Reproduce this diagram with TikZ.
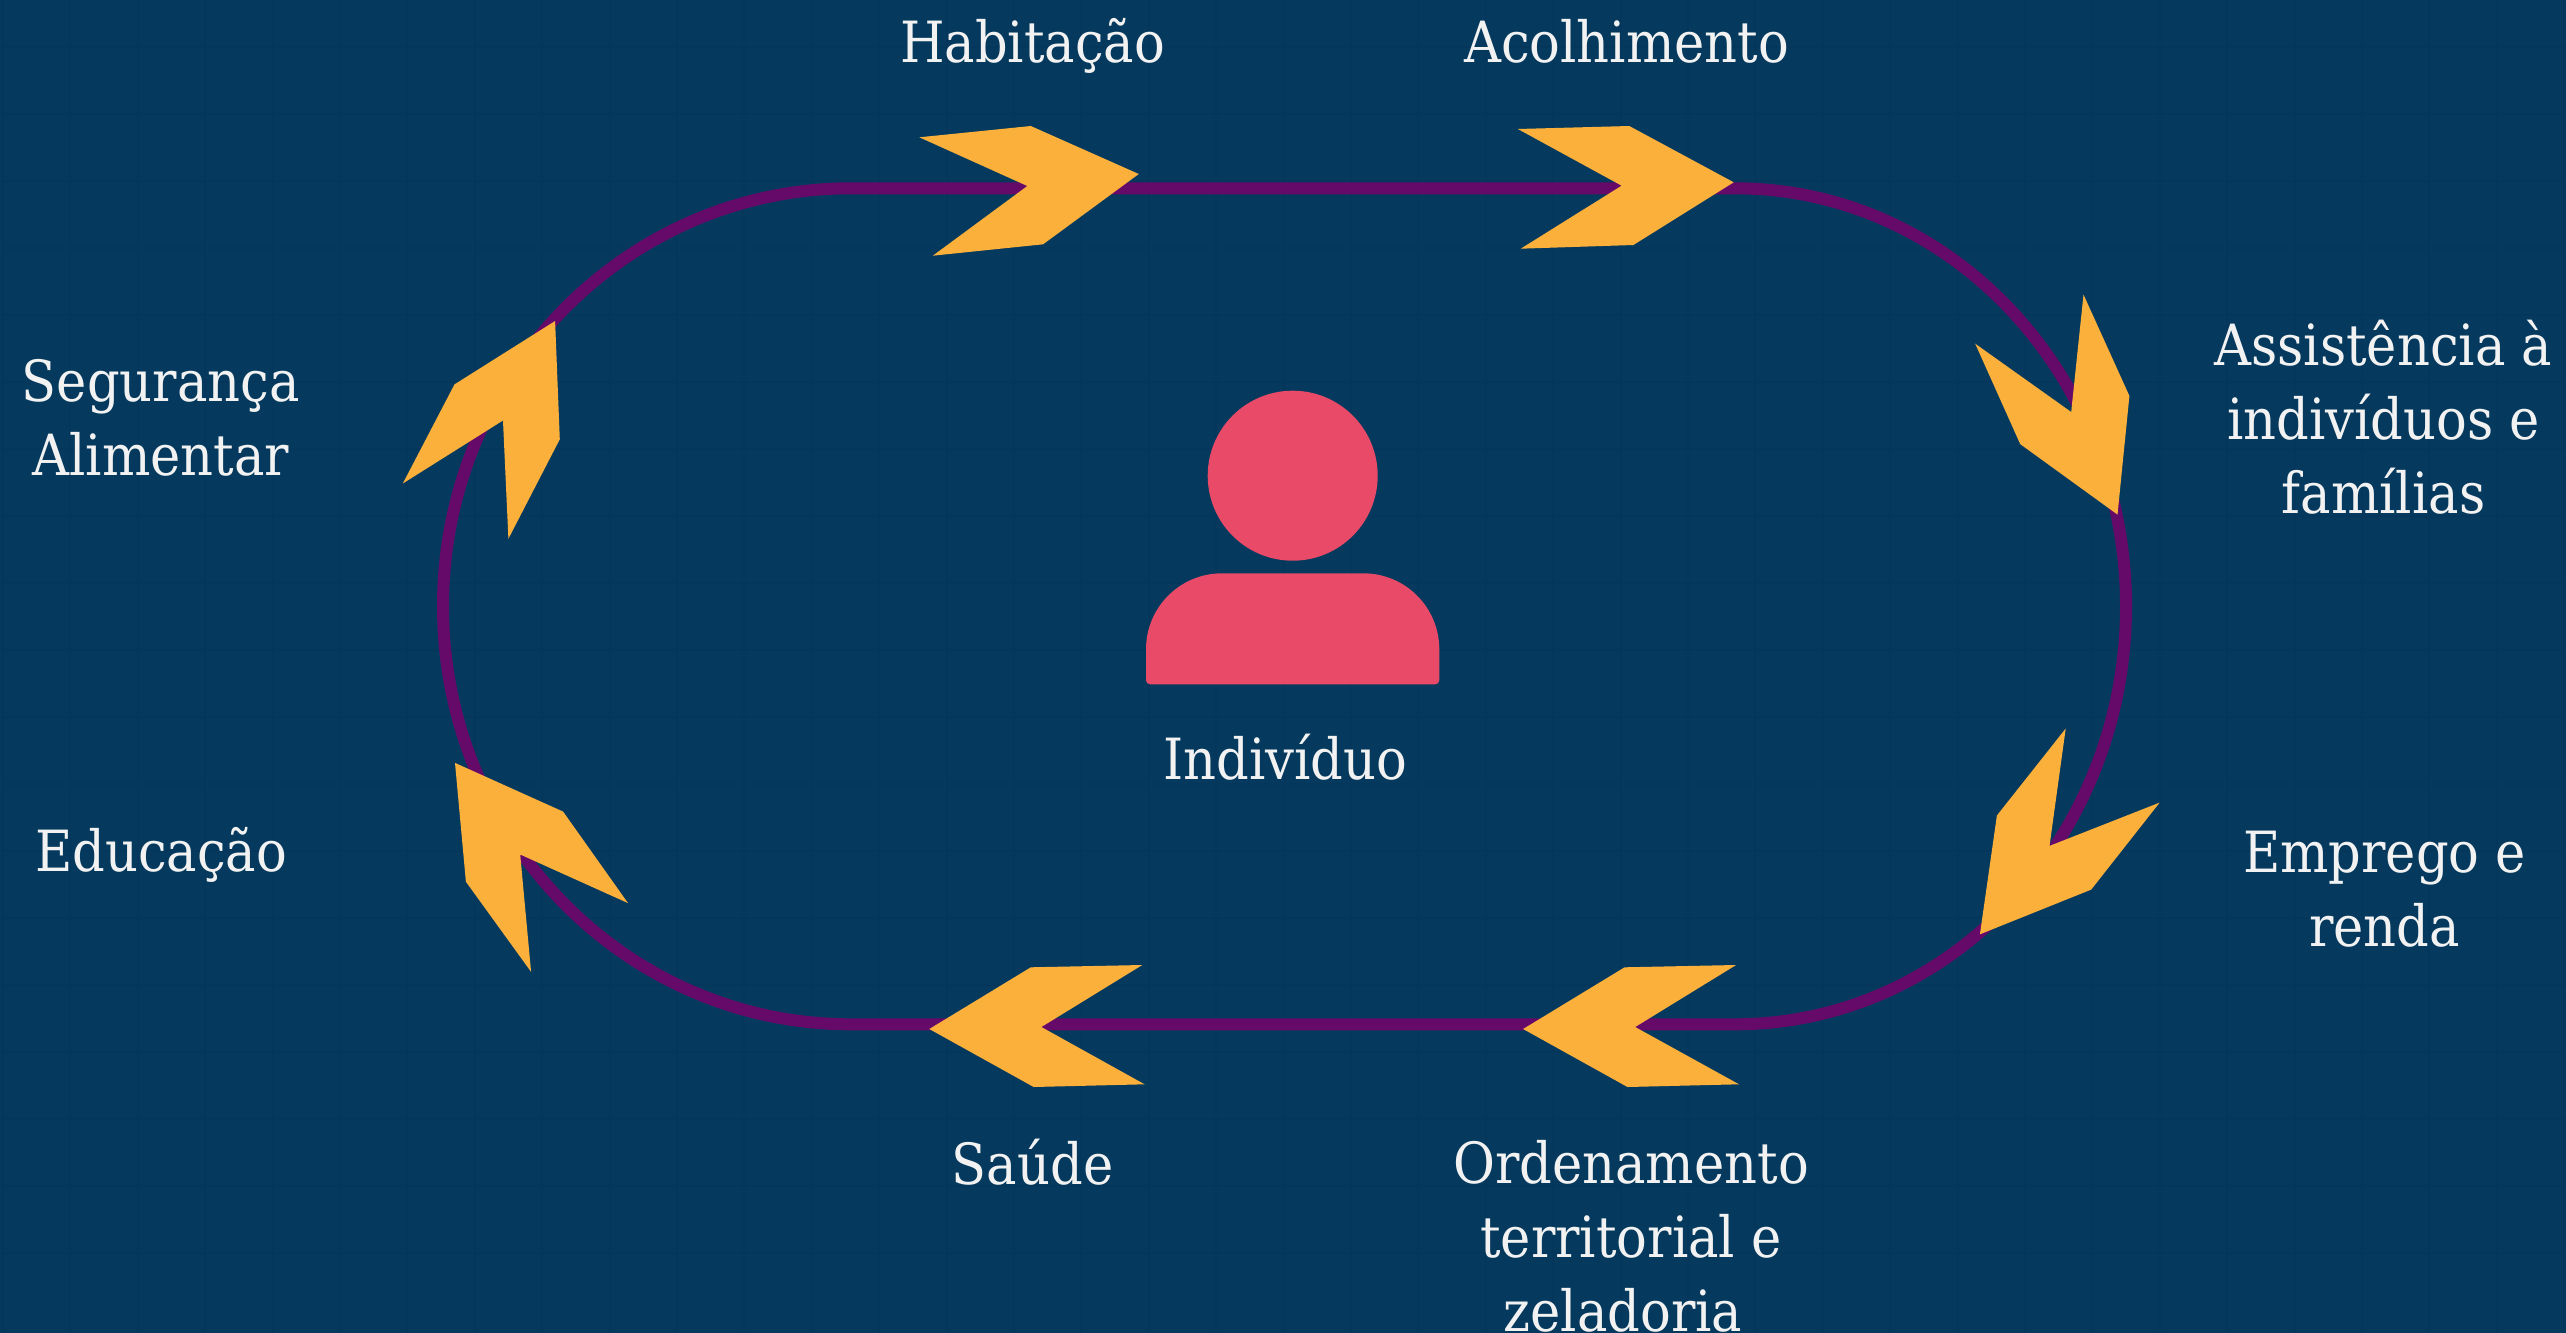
\documentclass[tikz,border=0pt]{standalone}
\usepackage{fontspec}
\setmainfont{DejaVu Serif Condensed}
\definecolor{bgblue}{HTML}{053A5E}
\definecolor{gridblue}{HTML}{04375B}
\definecolor{loopviolet}{HTML}{660A69}
\definecolor{chevronorange}{HTML}{FBB03B}
\definecolor{personred}{HTML}{E84A67}
\definecolor{labelwhite}{HTML}{F2F2F2}
\tikzset{
  label text/.style={text=labelwhite,font=\fontsize{28.4}{37}\selectfont,align=center,anchor=base,inner sep=0pt,outer sep=0pt},
  chevron/.style={fill=chevronorange,draw=none},
  person/.style={fill=personred,draw=none},
  loopline/.style={draw=loopviolet,line width=6pt},
  gridline/.style={draw=gridblue,line width=1pt}
}
\begin{document}
\begin{tikzpicture}[x=0.5pt,y=-0.5pt]
\useasboundingbox (0,0) rectangle (2566,1333);
\fill[bgblue] (0,0) rectangle (2566,1333);
\clip (0,0) rectangle (2566,1333);
\foreach \i in {0,...,38} \draw[gridline] ({3+67.4*\i},0) -- ({3+67.4*\i},1333);
\foreach \i in {0,...,19} \draw[gridline] (0,{47+67*\i-67}) -- (2566,{47+67*\i-67});
% loop
\coordinate (loopTL) at (851,188.3);
\coordinate (loopTR) at (1735,188.3);
\coordinate (loopBR) at (1735,1024.3);
\coordinate (loopBL) at (851,1024.3);
\draw[loopline] (loopTL) -- (loopTR)
  arc[start angle=-90,end angle=90,x radius=391,y radius=418] -- (loopBL)
  arc[start angle=90,end angle=270,x radius=408,y radius=418] -- cycle;
% chevrons
\fill[chevron] (919.3,137.3) -- (1030.8,126) -- (1138.8,174) -- (1043.1,244.3) -- (932.8,255.7) -- (1027.3,186) -- cycle;
\fill[chevron] (1517.8,129) -- (1629.3,126) -- (1733.7,182.3) -- (1633.4,245) -- (1520.7,248.7) -- (1621.6,185.7) -- cycle;
\fill[chevron] (2083.5,294.6) -- (2129.4,395.9) -- (2117.5,514.6) -- (2020.2,444.1) -- (1975.2,343.7) -- (2071.2,412) -- cycle;
\fill[chevron] (2065.7,728.5) -- (1996.9,815.5) -- (1979.9,934.3) -- (2091.2,889.6) -- (2159.6,802.6) -- (2049.5,845.9) -- cycle;
\fill[chevron] (1736.1,965) -- (1624.6,967.3) -- (1523.1,1029) -- (1627.5,1087) -- (1739,1084.3) -- (1635.2,1027) -- cycle;
\fill[chevron] (1142.3,965) -- (1030.8,967.3) -- (929.3,1029) -- (1033.7,1087) -- (1144.6,1084.3) -- (1041.4,1027) -- cycle;
\fill[chevron] (455,762.9) -- (563.1,811.6) -- (628,903.1) -- (520.2,854.5) -- (531.1,971.9) -- (465.9,881.7) -- cycle;
\fill[chevron] (555.1,321) -- (559.8,439.3) -- (508.4,538.8) -- (503,420.5) -- (402.8,483.5) -- (454.5,384.4) -- cycle;
% person
\fill[person] (1292.7,475.7) circle[radius=85];
\fill[person] (1146,680.3) -- (1146,649.3) arc[start angle=180,end angle=270,radius=76] -- (1363.3,573.3) arc[start angle=270,end angle=360,radius=76] -- (1439.3,680.3) arc[start angle=0,end angle=90,radius=4] -- (1150,684.3) arc[start angle=90,end angle=180,radius=4] -- cycle;
% labels (anchor=base sits on the last line's baseline)
\node[label text] (habitacao) at (1032.6,62) {Habitação};
\node[label text] (acolhimento) at (1626.6,62) {Acolhimento};
\node[label text] (assistencia) at (2383.4,513) {Assistência à\\indivíduos e\\famílias};
\node[label text] (emprego) at (2384.5,946) {Emprego e\\renda};
\node[label text] (ordenamento) at (1631,1331) {Ordenamento\\territorial e\\zeladoria\hspace*{8pt}};
\node[label text] (saude) at (1032.6,1184.5) {Saúde};
\node[label text] (educacao) at (161,871) {Educação};
\node[label text] (seguranca) at (160.7,475.5) {Segurança\\Alimentar};
\node[label text] (individuo) at (1285.3,779.5) {Indivíduo};
\end{tikzpicture}
\end{document}
